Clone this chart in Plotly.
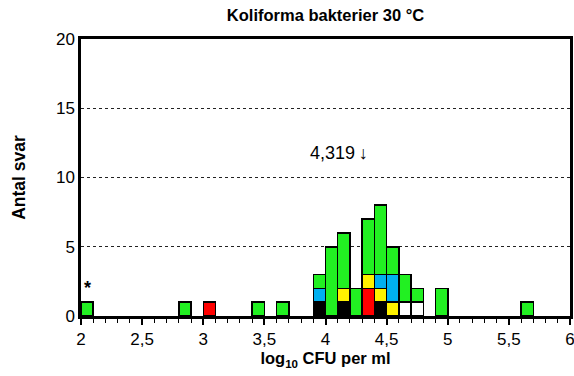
import plotly.graph_objects as go

bins = [2.05, 2.85, 3.05, 3.45, 3.65, 3.95, 4.05, 4.15, 4.25, 4.35, 4.45, 4.55, 4.65, 4.75, 4.95, 5.65]
black = [0, 0, 0, 0, 0, 1, 0, 1, 0, 0, 1, 0, 0, 0, 0, 0]
red = [0, 0, 1, 0, 0, 0, 0, 0, 0, 2, 0, 0, 0, 0, 0, 0]
white = [0, 0, 0, 0, 0, 0, 0, 0, 0, 0, 0, 0, 1, 1, 0, 0]
yellow = [0, 0, 0, 0, 0, 0, 0, 1, 0, 1, 1, 1, 0, 0, 0, 0]
blue = [0, 0, 0, 0, 0, 1, 0, 0, 0, 0, 1, 2, 0, 0, 0, 0]
green = [1, 1, 0, 1, 1, 1, 5, 4, 2, 4, 5, 2, 2, 1, 2, 1]

series = [
    ("black", black, "#000000"),
    ("red", red, "#FF0000"),
    ("white", white, "#FFFFFF"),
    ("yellow", yellow, "#FFF200"),
    ("blue", blue, "#00B0F0"),
    ("green", green, "#22F022"),
]

x_ticks = [2, 2.5, 3, 3.5, 4, 4.5, 5, 5.5, 6]
x_tick_labels = ["2", "2,5", "3", "3,5", "4", "4,5", "5", "5,5", "6"]
y_ticks = [0, 5, 10, 15, 20]

median_label = "4,319\u2009\u2193"
median_pos = (4.11, 11.75)
star_pos = (2.05, 2.0)

fig = go.Figure()
for name, vals, col in series:
    fig.add_trace(go.Bar(
        x=bins, y=[v if v > 0 else None for v in vals], width=0.1, name=name,
        marker=dict(color=col, line=dict(color="#000000", width=1.5)),
        showlegend=False,
    ))

fig.update_layout(
    barmode="stack",
    width=574, height=376,
    margin=dict(l=81, r=4, t=39, b=60, autoexpand=False),
    paper_bgcolor="white", plot_bgcolor="white",
    font=dict(family="Liberation Sans, Arial, sans-serif", size=16, color="black"),
    title=dict(text="<b>Koliforma bakterier 30 °C</b>", x=0.5, xanchor="center",
               xref="paper", y=1, yref="container", yanchor="top", pad=dict(t=9),
               font=dict(size=16.5)),
)
fig.update_xaxes(
    range=[2, 6], tickvals=x_ticks, ticktext=x_tick_labels, automargin=False,
    ticklabeloverflow="allow",
    ticks="outside", ticklen=6, tickwidth=1.5, tickcolor="black",
    minor=dict(dtick=0.1, ticks="outside", ticklen=4, tickwidth=1, tickcolor="black"),
    showline=True, linewidth=2.5, linecolor="black", mirror=True,
    showgrid=False, zeroline=False,
    title=dict(text="<b>log<sub>10</sub> CFU per ml</b>", font=dict(size=16.5), standoff=3),
    tickfont=dict(size=17),
)
fig.update_yaxes(
    range=[0, 20], tickvals=y_ticks, ticks="", ticklen=0, automargin=False,
    ticklabeloverflow="allow",
    showline=True, linewidth=2.5, linecolor="black", mirror=True,
    showgrid=True, gridcolor="#222222", griddash="3px,3px", gridwidth=1,
    zeroline=False,
    title=dict(text="<b>Antal svar</b>", font=dict(size=17.5), standoff=26),
    tickfont=dict(size=17),
)
fig.add_annotation(x=median_pos[0], y=median_pos[1], text=median_label, showarrow=False,
                   font=dict(size=18), xanchor="center", yanchor="middle")
fig.add_annotation(x=star_pos[0], y=star_pos[1], text="<b>*</b>", showarrow=False,
                   font=dict(size=18), xanchor="center", yanchor="middle")

fig.write_html("out.html")
